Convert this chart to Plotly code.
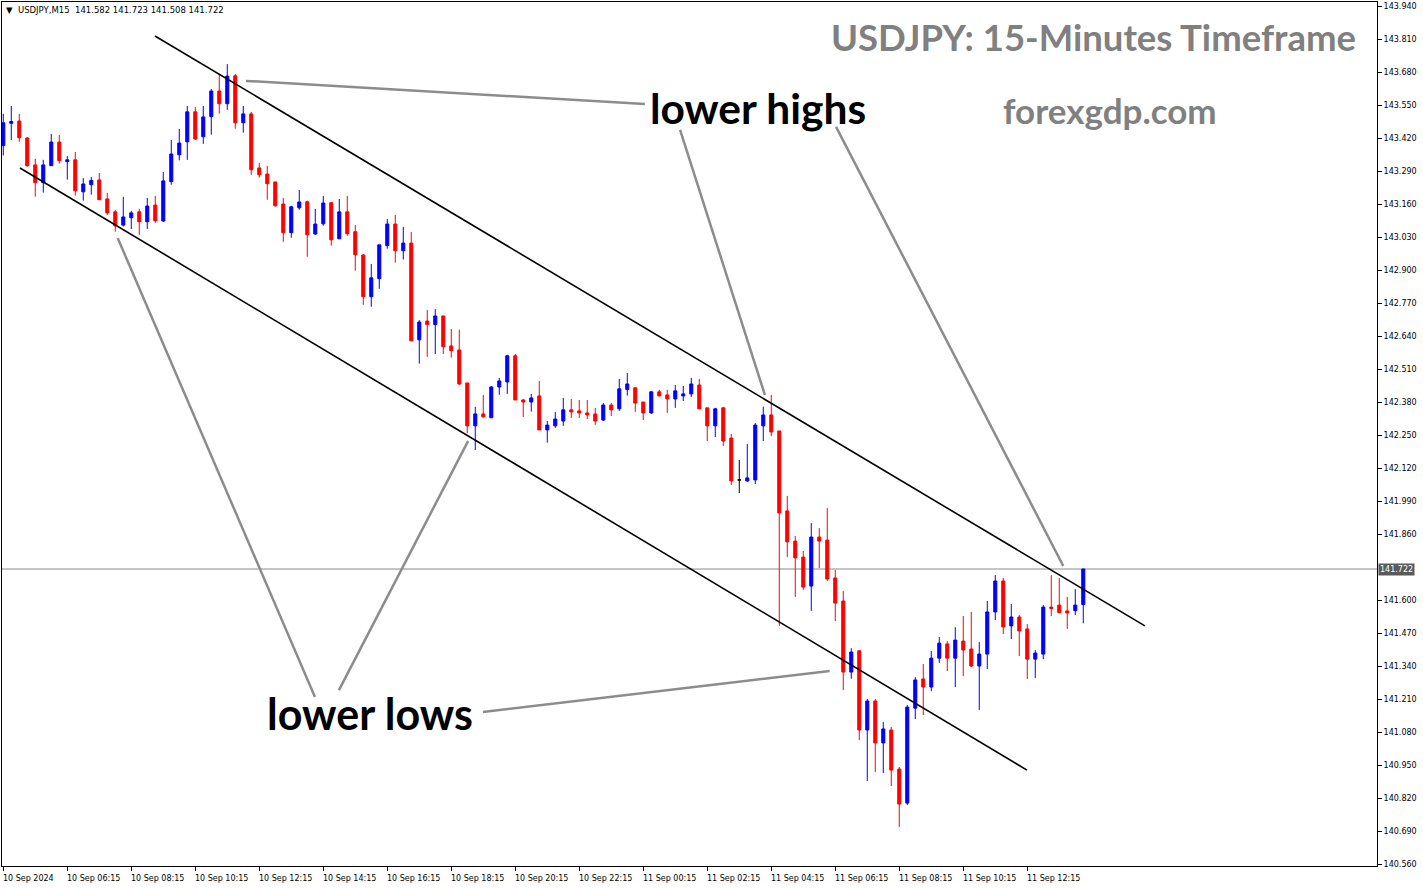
import plotly.graph_objects as go

# ---------------- data (USDJPY M15) ----------------
opens = [143.390, 143.478, 143.487, 143.420, 143.314, 143.244, 143.311, 143.404, 143.327, 143.334,
         143.208, 143.236, 143.255, 143.180, 143.129, 143.077, 143.106, 143.129, 143.090, 143.156,
         143.093, 143.248, 143.354, 143.405, 143.523, 143.425, 143.504, 143.605, 143.555, 143.665,
         143.480, 143.515, 143.302, 143.278, 143.247, 143.160, 143.047, 143.145, 143.169, 143.042,
         143.082, 143.165, 143.023, 143.129, 143.051, 142.959, 142.795, 142.866, 142.996, 143.081,
         142.976, 143.006, 142.625, 142.699, 142.685, 142.719, 142.601, 142.585, 142.455, 142.286,
         142.333, 142.318, 142.439, 142.459, 142.562, 142.388, 142.380, 142.404, 142.270, 142.286,
         142.305, 142.349, 142.345, 142.337, 142.333, 142.309, 142.368, 142.353, 142.429, 142.436,
         142.380, 142.337, 142.420, 142.408, 142.392, 142.404, 142.412, 142.447, 142.357, 142.286,
         142.357, 142.238, 142.073, 142.069, 142.073, 142.286, 142.329, 142.266, 141.951, 141.832,
         141.769, 141.655, 141.848, 141.836, 141.687, 141.596, 141.316, 141.400, 141.088, 141.202,
         141.037, 141.088, 140.934, 140.800, 141.174, 141.289, 141.257, 141.371, 141.427, 141.371,
         141.438, 141.407, 141.340, 141.387, 141.553, 141.675, 141.498, 141.533, 141.486, 141.367,
         141.387, 141.572, 141.580, 141.557, 141.558, 141.582]
highs = [143.515, 143.546, 143.515, 143.424, 143.338, 143.334, 143.436, 143.432, 143.349, 143.365,
         143.262, 143.266, 143.282, 143.204, 143.137, 143.188, 143.133, 143.141, 143.184, 143.192,
         143.286, 143.412, 143.456, 143.546, 143.542, 143.546, 143.613, 143.672, 143.711, 143.672,
         143.546, 143.523, 143.322, 143.310, 143.247, 143.184, 143.153, 143.215, 143.173, 143.141,
         143.192, 143.168, 143.180, 143.192, 143.077, 142.963, 142.924, 142.999, 143.101, 143.117,
         143.070, 143.050, 142.703, 142.743, 142.746, 142.719, 142.668, 142.665, 142.455, 142.361,
         142.408, 142.443, 142.475, 142.566, 142.569, 142.392, 142.412, 142.463, 142.305, 142.341,
         142.396, 142.392, 142.388, 142.388, 142.357, 142.376, 142.376, 142.471, 142.494, 142.436,
         142.380, 142.424, 142.428, 142.428, 142.447, 142.443, 142.475, 142.471, 142.357, 142.357,
         142.361, 142.254, 142.152, 142.215, 142.297, 142.361, 142.408, 142.266, 142.010, 141.852,
         141.793, 141.903, 141.883, 141.962, 141.718, 141.635, 141.410, 141.400, 141.210, 141.210,
         141.119, 141.100, 140.942, 141.186, 141.296, 141.348, 141.399, 141.454, 141.438, 141.493,
         141.537, 141.553, 141.434, 141.596, 141.698, 141.687, 141.584, 141.541, 141.505, 141.403,
         141.580, 141.698, 141.687, 141.612, 141.643, 141.723]
lows = [143.351, 143.412, 143.405, 143.307, 143.189, 143.205, 143.311, 143.319, 143.256, 143.193,
        143.173, 143.197, 143.177, 143.117, 143.051, 143.071, 143.062, 143.038, 143.062, 143.086,
        143.090, 143.236, 143.332, 143.334, 143.412, 143.397, 143.433, 143.516, 143.531, 143.457,
        143.441, 143.275, 143.264, 143.177, 143.149, 143.011, 143.027, 143.137, 142.952, 143.038,
        143.074, 142.996, 143.023, 143.035, 142.897, 142.763, 142.755, 142.826, 142.984, 142.929,
        142.941, 142.621, 142.531, 142.558, 142.569, 142.569, 142.555, 142.447, 142.257, 142.191,
        142.318, 142.318, 142.408, 142.412, 142.388, 142.321, 142.342, 142.270, 142.220, 142.278,
        142.286, 142.317, 142.317, 142.313, 142.290, 142.305, 142.325, 142.345, 142.405, 142.341,
        142.309, 142.333, 142.404, 142.337, 142.357, 142.384, 142.400, 142.353, 142.226, 142.242,
        142.207, 142.053, 142.021, 142.065, 142.057, 142.226, 142.246, 141.498, 141.770, 141.612,
        141.639, 141.557, 141.726, 141.675, 141.517, 141.245, 141.290, 141.048, 140.887, 140.922,
        140.918, 140.867, 140.706, 140.792, 141.131, 141.147, 141.241, 141.352, 141.320, 141.257,
        141.300, 141.336, 141.167, 141.328, 141.521, 141.466, 141.446, 141.379, 141.289, 141.293,
        141.367, 141.537, 141.550, 141.486, 141.541, 141.508]
closes = [143.480, 143.485, 143.421, 143.311, 143.244, 143.314, 143.404, 143.331, 143.334, 143.212,
          143.239, 143.253, 143.177, 143.125, 143.074, 143.109, 143.125, 143.090, 143.152, 143.094,
          143.251, 143.357, 143.400, 143.523, 143.416, 143.503, 143.605, 143.555, 143.664, 143.480,
          143.515, 143.295, 143.275, 143.240, 143.153, 143.047, 143.149, 143.168, 143.039, 143.081,
          143.164, 143.019, 143.129, 143.043, 142.960, 142.795, 142.869, 142.999, 143.081, 142.976,
          143.006, 142.621, 142.695, 142.685, 142.719, 142.598, 142.582, 142.451, 142.286, 142.333,
          142.322, 142.439, 142.463, 142.562, 142.388, 142.380, 142.396, 142.270, 142.289, 142.313,
          142.349, 142.341, 142.337, 142.329, 142.305, 142.368, 142.349, 142.432, 142.451, 142.376,
          142.337, 142.420, 142.404, 142.392, 142.424, 142.412, 142.451, 142.353, 142.286, 142.353,
          142.226, 142.069, 142.073, 142.081, 142.289, 142.329, 142.262, 141.943, 141.829, 141.766,
          141.651, 141.848, 141.832, 141.683, 141.588, 141.316, 141.395, 141.088, 141.202, 141.037,
          141.092, 140.930, 140.796, 141.178, 141.285, 141.257, 141.371, 141.430, 141.371, 141.442,
          141.403, 141.340, 141.387, 141.553, 141.675, 141.494, 141.533, 141.478, 141.367, 141.391,
          141.572, 141.567, 141.550, 141.549, 141.580, 141.722]

# time-axis labels (every 8 bars = 2 hours)
time_label_bars = [0, 8, 16, 24, 32, 40, 48, 56, 64, 72, 80, 88, 96, 104, 112, 120, 128]
time_labels = ["10 Sep 2024", "10 Sep 06:15", "10 Sep 08:15", "10 Sep 10:15", "10 Sep 12:15",
               "10 Sep 14:15", "10 Sep 16:15", "10 Sep 18:15", "10 Sep 20:15", "10 Sep 22:15",
               "11 Sep 00:15", "11 Sep 02:15", "11 Sep 04:15", "11 Sep 06:15", "11 Sep 08:15",
               "11 Sep 10:15", "11 Sep 12:15"]

price_ticks = [143.940, 143.810, 143.680, 143.550, 143.420, 143.290, 143.160, 143.030, 142.900,
               142.770, 142.640, 142.510, 142.380, 142.250, 142.120, 141.990, 141.860, 141.600,
               141.470, 141.340, 141.210, 141.080, 140.950, 140.820, 140.690, 140.560]
last_price = 141.722

# channel lines (bar index, price)
upper_channel = [(18.96, 143.822), (142.7, 141.498)]
lower_channel = [(2.09, 143.302), (127.96, 140.930)]
# pointer lines from the labels
pointer_lines = [
    [(30.34, 143.645), (80.2, 143.554)],
    [(84.6, 143.452), (95.2, 142.408)],
    [(104.1, 143.464), (132.5, 141.734)],
    [(14.3, 143.026), (38.96, 141.218)],
    [(58.1, 142.226), (41.96, 141.245)],
    [(59.96, 141.159), (103.3, 141.320)],
]

# ---------------- figure ----------------
bars = list(range(len(opens)))
doji = [i for i in bars if opens[i] == closes[i]]
normal = [i for i in bars if opens[i] != closes[i]]

fig = go.Figure()
fig.add_trace(go.Candlestick(
    x=[bars[i] for i in normal],
    open=[opens[i] for i in normal], high=[highs[i] for i in normal],
    low=[lows[i] for i in normal], close=[closes[i] for i in normal],
    increasing=dict(line=dict(color="#0000FF", width=1), fillcolor="#0000FF"),
    decreasing=dict(line=dict(color="#FF0000", width=1), fillcolor="#FF0000"),
    whiskerwidth=0, hoverinfo="skip",
))
if doji:
    fig.add_trace(go.Candlestick(
        x=[bars[i] for i in doji],
        open=[opens[i] for i in doji], high=[highs[i] for i in doji],
        low=[lows[i] for i in doji], close=[closes[i] for i in doji],
        increasing=dict(line=dict(color="#000000", width=1), fillcolor="#000000"),
        decreasing=dict(line=dict(color="#000000", width=1), fillcolor="#000000"),
        whiskerwidth=0, hoverinfo="skip",
    ))

shapes = [dict(type="line", xref="paper", yref="y", x0=0, x1=1, y0=last_price, y1=last_price,
               line=dict(color="#8a8a8a", width=1), layer="below")]
for (p0, p1) in [upper_channel, lower_channel]:
    shapes.append(dict(type="line", xref="x", yref="y", x0=p0[0], y0=p0[1], x1=p1[0], y1=p1[1],
                       line=dict(color="#000000", width=1.6)))
for (p0, p1) in pointer_lines:
    shapes.append(dict(type="line", xref="x", yref="y", x0=p0[0], y0=p0[1], x1=p1[0], y1=p1[1],
                       line=dict(color="#8c8c8c", width=2.5)))

W, H = 1423, 888
L, R, T, B = 2, 46, 2, 22
pw, ph = W - L - R, H - T - B


def px(xp):
    return (xp - L) / pw


def py(yp):
    return 1 - (yp - T) / ph


annotations = []
for b, t in zip(time_label_bars, time_labels):
    annotations.append(dict(x=b, xref="x", y=0, yref="paper", text=t, showarrow=False,
                            xanchor="left", yanchor="top", xshift=-2, yshift=-6,
                            font=dict(family="DejaVu Sans", size=8, color="#000000")))
annotations.append(dict(x=1, xref="paper", y=last_price, yref="y", text="141.722", showarrow=False,
                        xanchor="left", yanchor="middle", xshift=1, bgcolor="#5a5a5a",
                        borderpad=1, font=dict(family="DejaVu Sans", size=8, color="#ffffff")))
annotations.append(dict(x=px(4), y=py(10), xref="paper", yref="paper",
                        text="▼  USDJPY,M15  141.582 141.723 141.508 141.722", showarrow=False,
                        xanchor="left", yanchor="middle",
                        font=dict(family="DejaVu Sans", size=8.5, color="#000000")))
annotations.append(dict(x=px(1093), y=py(37), xref="paper", yref="paper",
                        text="<b>USDJPY: 15-Minutes Timeframe</b>", showarrow=False,
                        xanchor="center", yanchor="middle",
                        font=dict(family="Lato", size=36.5, color="#808080")))
annotations.append(dict(x=px(1110), y=py(110), xref="paper", yref="paper",
                        text="<b>forexgdp.com</b>", showarrow=False,
                        xanchor="center", yanchor="middle",
                        font=dict(family="Lato", size=35, color="#808080")))
annotations.append(dict(x=px(758), y=py(107), xref="paper", yref="paper",
                        text="<b>lower highs</b>", showarrow=False,
                        xanchor="center", yanchor="middle",
                        font=dict(family="Lato", size=42.5, color="#000000")))
annotations.append(dict(x=px(370), y=py(713), xref="paper", yref="paper",
                        text="<b>lower lows</b>", showarrow=False,
                        xanchor="center", yanchor="middle",
                        font=dict(family="Lato", size=43, color="#000000")))

fig.update_layout(
    width=W, height=H, margin=dict(l=L, r=R, t=T, b=B),
    paper_bgcolor="#ffffff", plot_bgcolor="#ffffff", showlegend=False,
    boxgap=0.45,
    shapes=shapes, annotations=annotations,
    xaxis=dict(range=[-0.16, -0.16 + pw / 8.0], showgrid=False, zeroline=False,
               showline=True, mirror=True, linecolor="#000000", linewidth=1,
               tickmode="array", tickvals=time_label_bars, ticks="outside", ticklen=4,
               tickcolor="#000000", showticklabels=False,
               rangeslider=dict(visible=False), fixedrange=True),
    yaxis=dict(side="right", range=[140.56 - 2 / 253.8, 143.94 + 4 / 253.8],
               showgrid=False, zeroline=False, showline=True, mirror=True,
               linecolor="#000000", linewidth=1, tickmode="array", tickvals=price_ticks,
               ticktext=[f"{v:.3f}" for v in price_ticks], ticks="outside", ticklen=4,
               tickcolor="#000000", tickfont=dict(family="DejaVu Sans", size=8, color="#000000"),
               fixedrange=True),
)

fig.write_html("out.html", config={"displayModeBar": False},
               post_script="document.body.style.margin='0';document.body.style.overflow='hidden';")
